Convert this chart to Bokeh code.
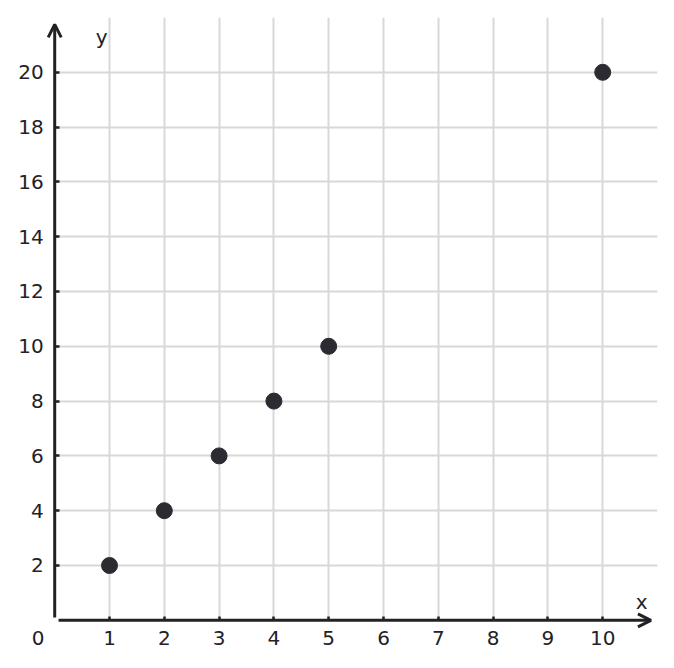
from bokeh.plotting import figure
from bokeh.models import Range1d, FixedTicker, Arrow, OpenHead, Label, LinearAxis
from bokeh.embed import file_html
from bokeh.resources import INLINE

xs = [1, 2, 3, 4, 5, 10]
ys = [2, 4, 6, 8, 10, 20]
x_ticks = [1, 2, 3, 4, 5, 6, 7, 8, 9, 10]
y_ticks = [2, 4, 6, 8, 10, 12, 14, 16, 18, 20]

INK = "#222226"
FONT = "DejaVu Sans"

p = figure(width=666, height=660, output_backend="svg", toolbar_location=None,
           x_range=Range1d(-0.8066, 11), y_range=Range1d(-1.285, 22),
           x_axis_location=None, y_axis_location=None,
           min_border_left=10, min_border_right=9, min_border_top=17, min_border_bottom=5)
p.outline_line_color = None

xa = LinearAxis(ticker=FixedTicker(ticks=x_ticks), fixed_location=0)
ya = LinearAxis(ticker=FixedTicker(ticks=y_ticks), fixed_location=0)
for ax in (xa, ya):
    ax.axis_line_color = None
    ax.major_tick_in = 5
    ax.major_tick_out = 0
    ax.major_tick_line_color = INK
    ax.major_tick_line_width = 2.5
    ax.minor_tick_line_color = None
    ax.major_label_text_font = FONT
    ax.major_label_text_font_size = "20px"
    ax.major_label_text_color = INK
    ax.major_label_standoff = 11
xa.major_tick_in = 4
p.add_layout(xa, "below")
p.add_layout(ya, "left")

p.xgrid.ticker = FixedTicker(ticks=x_ticks)
p.ygrid.ticker = FixedTicker(ticks=y_ticks)
p.xgrid.grid_line_color = "#d8d8d8"
p.ygrid.grid_line_color = "#d8d8d8"
p.xgrid.grid_line_width = 2
p.ygrid.grid_line_width = 2
try:
    p.xgrid.cross_bounds = (0, 22)
    p.ygrid.cross_bounds = (0, 11)
except Exception:
    pass

p.add_layout(Arrow(x_start=0.07, y_start=0, x_end=10.88, y_end=0,
                   line_color=INK, line_width=3,
                   end=OpenHead(size=13, line_color=INK, line_width=3)))
p.add_layout(Arrow(x_start=0, y_start=0.1, x_end=0, y_end=21.75,
                   line_color=INK, line_width=3,
                   end=OpenHead(size=13, line_color=INK, line_width=3)))

p.scatter(xs, ys, size=16, fill_color="#2b2b31", line_color="#2b2b31")

p.add_layout(Label(x=-0.305, y=-0.646, text="0",
                   text_align="center", text_baseline="middle",
                   text_font=FONT, text_font_size="20px", text_color=INK))
p.add_layout(Label(x=0.75, y=21.3, text="y", text_align="left", text_baseline="alphabetic",
                   text_font=FONT, text_font_size="20px", text_color=INK))
p.add_layout(Label(x=10.71, y=0.65, text="x", text_align="center", text_baseline="alphabetic",
                   text_font=FONT, text_font_size="20px", text_color=INK))

open("out.html", "w").write(file_html(p, INLINE))
